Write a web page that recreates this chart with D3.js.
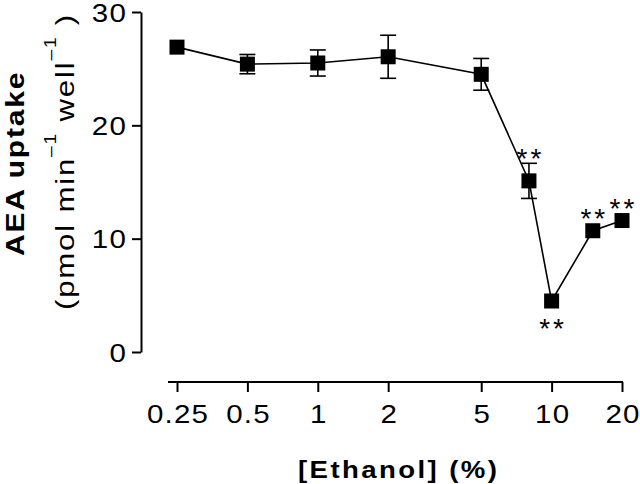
<!DOCTYPE html>
<html>
<head>
<meta charset="utf-8">
<script src="https://cdn.jsdelivr.net/npm/d3@7/dist/d3.min.js"></script>
<style>
  html, body { margin: 0; padding: 0; background: #fff; }
  svg { display: block; }
  text { font-family: "Liberation Sans", Arial, Helvetica, sans-serif; fill: #000; }
</style>
</head>
<body>
<svg id="chart" width="640" height="484"></svg>
<script>
// ---- data ----
const ethanol = [0.25, 0.5, 1, 2, 5, 8, 10, 15, 20];
const uptake  = [26.9, 25.4, 25.5, 26.05, 24.5, 15.1, 4.5, 10.7, 11.6];
const sem     = [0, 0.85, 1.15, 1.9, 1.4, 1.55, 0, 0, 0];
const signif  = ["", "", "", "", "", "above", "below", "above", "above"];
const xTicks  = [0.25, 0.5, 1, 2, 5, 10, 20];
const xTickLabels = ["0.25", "0.5", "1", "2", "5", "10", "20"];
const yTicks  = [0, 10, 20, 30];

const data = ethanol.map((e, i) => ({ x: e, y: uptake[i], e: sem[i], s: signif[i] }));

const svg = d3.select("#chart");
svg.append("rect").attr("width", 640).attr("height", 484).attr("fill", "#fff");

const x = d3.scaleLog().domain([0.25, 20]).range([177, 622]);
const y = d3.scaleLinear().domain([0, 30]).range([352, 12]);

const SX = 1.18;   // horizontal stretch of the wide typeface
const LS = 1;      // letter spacing for tick labels

// ---- x axis ----
const xAxisY = 382;
const gx = svg.append("g").attr("transform", `translate(0,${xAxisY})`)
  .call(d3.axisBottom(x).tickValues(xTicks).tickFormat((d, i) => xTickLabels[i]).tickSize(10).tickSizeOuter(0));
gx.select(".domain").remove();
gx.append("line").attr("x1", x(0.25) - 9).attr("x2", x(20) + 1).attr("y1", 0).attr("y2", 0)
  .attr("stroke", "#000").attr("stroke-width", 2);
gx.selectAll(".tick line").attr("stroke", "#000").attr("stroke-width", 2);
gx.selectAll(".tick text")
  .attr("y", 41).attr("dy", 0).attr("x", LS / 2)
  .attr("transform", `scale(${SX},1)`)
  .style("font-size", "25px").style("letter-spacing", LS + "px")
  .style("font-family", "'Liberation Sans', Arial, sans-serif").attr("fill", "#000");

// ---- y axis ----
const yAxisX = 141;
const gy = svg.append("g").attr("transform", `translate(${yAxisX},0)`)
  .call(d3.axisLeft(y).tickValues(yTicks).tickSize(9).tickSizeOuter(0));
gy.select(".domain").attr("stroke", "#000").attr("stroke-width", 2);
gy.selectAll(".tick line").attr("stroke", "#000").attr("stroke-width", 2);
gy.selectAll(".tick text")
  .attr("x", 0).attr("dy", "0.36em")
  .attr("transform", `translate(-14,0) scale(${SX},1)`)
  .style("font-size", "25px").style("letter-spacing", LS + "px")
  .style("font-family", "'Liberation Sans', Arial, sans-serif").attr("fill", "#000");

// ---- line ----
const line = d3.line().x(d => x(d.x)).y(d => y(d.y));
svg.append("path").datum(data).attr("d", line)
  .attr("fill", "none").attr("stroke", "#000").attr("stroke-width", 1.6);

// ---- error bars ----
const eb = svg.append("g").attr("stroke", "#000").attr("stroke-width", 1.6);
data.filter(d => d.e > 0).forEach(d => {
  const cx = x(d.x);
  eb.append("line").attr("x1", cx).attr("x2", cx).attr("y1", y(d.y + d.e)).attr("y2", y(d.y - d.e));
  eb.append("line").attr("x1", cx - 8).attr("x2", cx + 8).attr("y1", y(d.y + d.e)).attr("y2", y(d.y + d.e));
  eb.append("line").attr("x1", cx - 8).attr("x2", cx + 8).attr("y1", y(d.y - d.e)).attr("y2", y(d.y - d.e));
});

// ---- markers ----
const ms = 15;
svg.append("g").selectAll("rect").data(data).join("rect")
  .attr("x", d => x(d.x) - ms / 2).attr("y", d => y(d.y) - ms / 2)
  .attr("width", ms).attr("height", ms).attr("fill", "#000");

// ---- significance asterisks ----
svg.append("g").selectAll("text").data(data.filter(d => d.s)).join("text")
  .attr("x", d => x(d.x) + 1.5)
  .attr("y", d => {
    const c = d.s === "above"
      ? Math.min(y(d.y + d.e), y(d.y) - ms / 2) - 11
      : Math.max(y(d.y - d.e), y(d.y) + ms / 2) + 13;
    return c + 16;
  })
  .attr("text-anchor", "middle")
  .style("font-size", "28px").style("letter-spacing", "3px")
  .text("**");

// ---- axis titles ----
svg.append("text")
  .attr("transform", `translate(298,478) scale(1.2,1)`)
  .style("font-size", "23px").style("font-weight", "bold").style("letter-spacing", "2px")
  .text("[Ethanol] (%)");

svg.append("text")
  .attr("transform", "translate(24,256) rotate(-90) scale(1.2,1)")
  .style("font-size", "25px").style("font-weight", "bold").style("letter-spacing", "1.5px")
  .text("AEA uptake");

const t2 = svg.append("text")
  .attr("transform", "translate(74,310) rotate(-90) scale(1.2,1)")
  .style("font-size", "26px").style("letter-spacing", "1.5px");
t2.append("tspan").text("(pmol min");
t2.append("tspan").attr("dy", -18).style("font-size", "16px").text("–1");
t2.append("tspan").attr("dy", 18).text(" well");
t2.append("tspan").attr("dy", -18).style("font-size", "16px").text("–1");
t2.append("tspan").attr("dy", 18).text(" )");
</script>
</body>
</html>
